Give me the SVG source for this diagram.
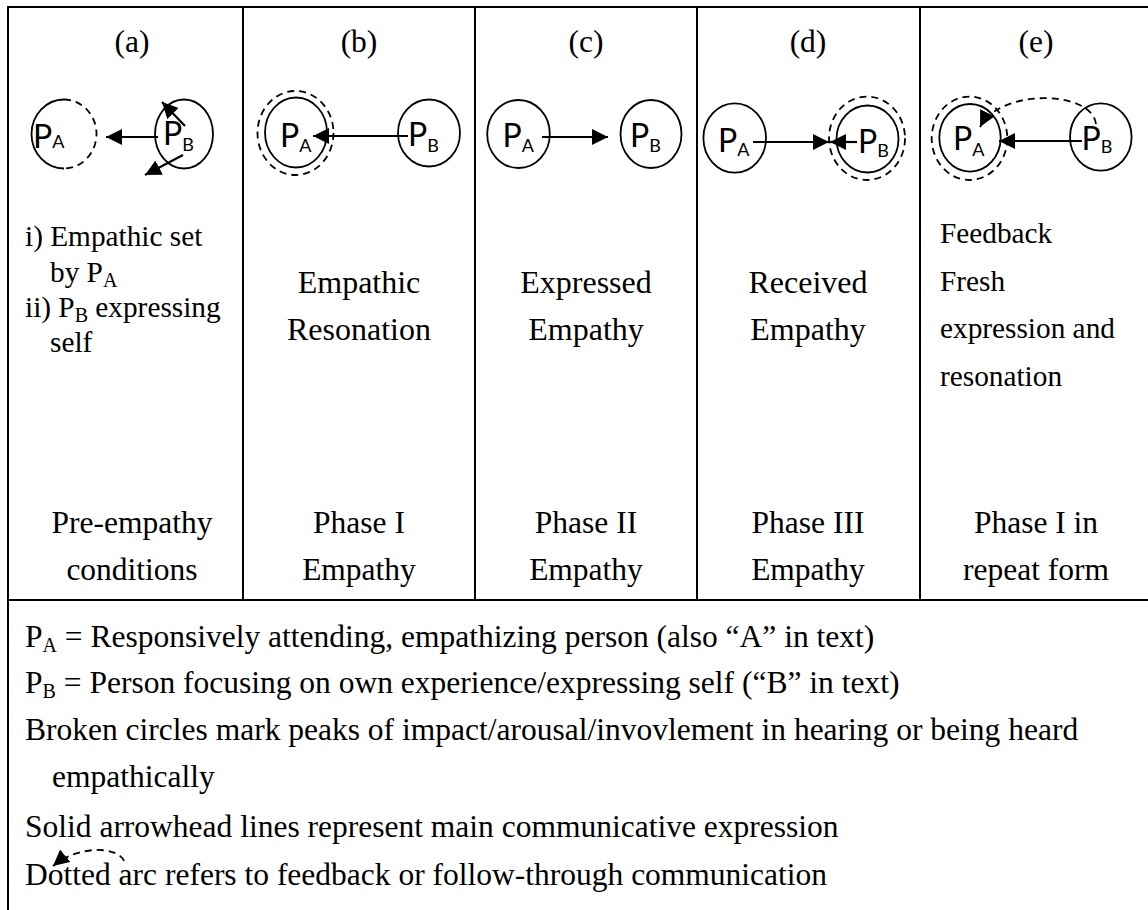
<svg xmlns="http://www.w3.org/2000/svg" width="1148" height="910" viewBox="0 0 1148 910">
  <defs>
    <marker id="ah" markerUnits="userSpaceOnUse" markerWidth="18" markerHeight="16" refX="16" refY="8" orient="auto">
      <path d="M0,0 L16,8 L0,16 z" fill="#000"/>
    </marker>
    <style>
      .grid{stroke:#000;stroke-width:2;fill:none}
      .t{font-family:"Liberation Serif","Times New Roman",serif;font-size:31.5px;fill:#000}
      .c{text-anchor:middle}
      .mid{font-size:32px}
      .note{font-size:29.3px}
      .sub{font-size:20px}
      .p{font-family:Lato,"Open Sans",sans-serif;font-size:32px;fill:#000}
      .ps{font-size:18px}
      .ring{fill:none;stroke:#000;stroke-width:1.8}
      .dash{fill:none;stroke:#000;stroke-width:1.8;stroke-dasharray:7 5}
      .arrow{stroke:#000;stroke-width:2.2;fill:none;marker-end:url(#ah)}
      .arc{stroke:#000;stroke-width:1.8;fill:none;stroke-dasharray:7 5;marker-end:url(#ah)}
    </style>
  </defs>
  <rect width="1148" height="910" fill="#fff"/>

  <!-- table rules -->
  <g id="table" class="grid">
    <line x1="7" y1="7" x2="1148" y2="7"/>
    <line x1="8" y1="6" x2="8" y2="910"/>
    <line x1="7" y1="600" x2="1148" y2="600"/>
    <line x1="243" y1="7" x2="243" y2="600"/>
    <line x1="475" y1="7" x2="475" y2="600"/>
    <line x1="697" y1="7" x2="697" y2="600"/>
    <line x1="920" y1="7" x2="920" y2="600"/>
  </g>

  <!-- column headings -->
  <g id="headings" class="t c">
    <text x="132" y="52">(a)</text>
    <text x="359" y="52">(b)</text>
    <text x="586" y="52">(c)</text>
    <text x="808" y="52">(d)</text>
    <text x="1036" y="52">(e)</text>
  </g>

  <!-- panel (a) -->
  <g id="a-PA">
    <path class="ring" d="M64,99.5 A32.5,34.5 0 0 0 64,168.5"/>
    <path class="dash" d="M64,99.5 A32.5,34.5 0 0 1 64,168.5"/>
    <text class="p" x="33" y="148">P<tspan class="ps" dy="0">A</tspan></text>
  </g>
  <g id="a-PB">
    <ellipse class="ring" cx="184" cy="134" rx="29" ry="34.5"/>
    <text class="p" x="163" y="145">P<tspan class="ps" dy="6">B</tspan></text>
  </g>

  <!-- panel (b) -->
  <g id="b-PA">
    <ellipse class="dash" cx="295.5" cy="133" rx="38" ry="42"/>
    <ellipse class="ring" cx="296" cy="132.5" rx="31" ry="35"/>
    <text class="p" x="280" y="146.5">P<tspan class="ps" dy="5">A</tspan></text>
  </g>
  <g id="b-PB">
    <ellipse class="ring" cx="429" cy="133" rx="31" ry="33.5"/>
    <text class="p" x="408" y="145.5">P<tspan class="ps" dy="6">B</tspan></text>
  </g>

  <!-- panel (c) -->
  <g id="c-PA">
    <ellipse class="ring" cx="518.5" cy="134" rx="31.3" ry="34"/>
    <text class="p" x="502.5" y="146.5">P<tspan class="ps" dy="5">A</tspan></text>
  </g>
  <g id="c-PB">
    <ellipse class="ring" cx="651" cy="134" rx="30.5" ry="34"/>
    <text class="p" x="630" y="146.5">P<tspan class="ps" dy="5">B</tspan></text>
  </g>

  <!-- panel (d) -->
  <g id="d-PA">
    <ellipse class="ring" cx="734.7" cy="138" rx="31.3" ry="34.7"/>
    <text class="p" x="718" y="151.5">P<tspan class="ps" dy="4">A</tspan></text>
  </g>
  <g id="d-PB">
    <ellipse class="dash" cx="867" cy="138.3" rx="38" ry="41.7"/>
    <ellipse class="ring" cx="867.5" cy="139" rx="31" ry="33.5"/>
    <text class="p" x="858" y="153">P<tspan class="ps" dy="4">B</tspan></text>
  </g>

  <!-- panel (e) -->
  <g id="e-PA">
    <ellipse class="dash" cx="969.5" cy="138.3" rx="37.8" ry="41.7"/>
    <ellipse class="ring" cx="970" cy="137.8" rx="30.7" ry="33.8"/>
    <text class="p" x="953" y="150">P<tspan class="ps" dy="6">A</tspan></text>
  </g>
  <g id="e-PB">
    <ellipse class="ring" cx="1100.8" cy="137" rx="30.8" ry="33.7"/>
    <text class="p" x="1081.5" y="150">P<tspan class="ps" dy="3">B</tspan></text>
  </g>

  <!-- connectors -->
  <g id="connectors">
    <line class="arrow" x1="158" y1="137" x2="106" y2="137"/>
    <line class="arrow" x1="185" y1="126" x2="162" y2="102"/>
    <line class="arrow" x1="183" y1="155" x2="145" y2="175"/>
    <line class="arrow" x1="408" y1="136" x2="313" y2="136"/>
    <line class="arrow" x1="542" y1="137" x2="608" y2="137"/>
    <line class="arrow" x1="753" y1="142" x2="829" y2="142"/>
    <line class="arrow" x1="857" y1="142" x2="830" y2="142"/>
    <line class="arrow" x1="1082" y1="141" x2="999" y2="141"/>
    <path class="arc" d="M1096,124 C1092,90 1000,88 980,127"/>
    <path class="arc" d="M124,861 C118,846 78,845 53,866"/>
  </g>

  <!-- panel descriptions -->
  <g id="notes" class="t">
    <text class="note" x="25" y="246">i) Empathic set</text>
    <text class="note" x="50" y="282">by P<tspan class="sub" dy="5">A</tspan></text>
    <text class="note" x="25" y="317">ii) P<tspan class="sub" dy="5">B</tspan><tspan dy="-5"> expressing</tspan></text>
    <text class="note" x="50" y="352">self</text>
    <text class="c mid" x="359" y="293">Empathic</text>
    <text class="c mid" x="359" y="340">Resonation</text>
    <text class="c mid" x="586" y="293">Expressed</text>
    <text class="c mid" x="586" y="340">Empathy</text>
    <text class="c mid" x="808" y="293">Received</text>
    <text class="c mid" x="808" y="340">Empathy</text>
    <text class="note" x="940" y="243">Feedback</text>
    <text class="note" x="940" y="291">Fresh</text>
    <text class="note" x="940" y="338">expression and</text>
    <text class="note" x="940" y="386">resonation</text>
  </g>

  <!-- phase labels -->
  <g id="phases" class="t c">
    <text x="132" y="533">Pre-empathy</text>
    <text x="132" y="580">conditions</text>
    <text x="359" y="533">Phase I</text>
    <text x="359" y="580">Empathy</text>
    <text x="586" y="533">Phase II</text>
    <text x="586" y="580">Empathy</text>
    <text x="808" y="533">Phase III</text>
    <text x="808" y="580">Empathy</text>
    <text x="1036" y="533">Phase I in</text>
    <text x="1036" y="580">repeat form</text>
  </g>

  <!-- key -->
  <g id="key" class="t">
    <text x="25" y="647">P<tspan class="sub" dy="5">A</tspan><tspan dy="-5"> = Responsively attending, empathizing person (also “A” in text)</tspan></text>
    <text x="25" y="693">P<tspan class="sub" dy="5">B</tspan><tspan dy="-5"> = Person focusing on own experience/expressing self (“B” in text)</tspan></text>
    <text x="25" y="740">Broken circles mark peaks of impact/arousal/invovlement in hearing or being heard</text>
    <text x="52" y="787">empathically</text>
    <text x="25" y="837">Solid arrowhead lines represent main communicative expression</text>
    <text x="25" y="885">Dotted arc refers to feedback or follow-through communication</text>
  </g>
</svg>
